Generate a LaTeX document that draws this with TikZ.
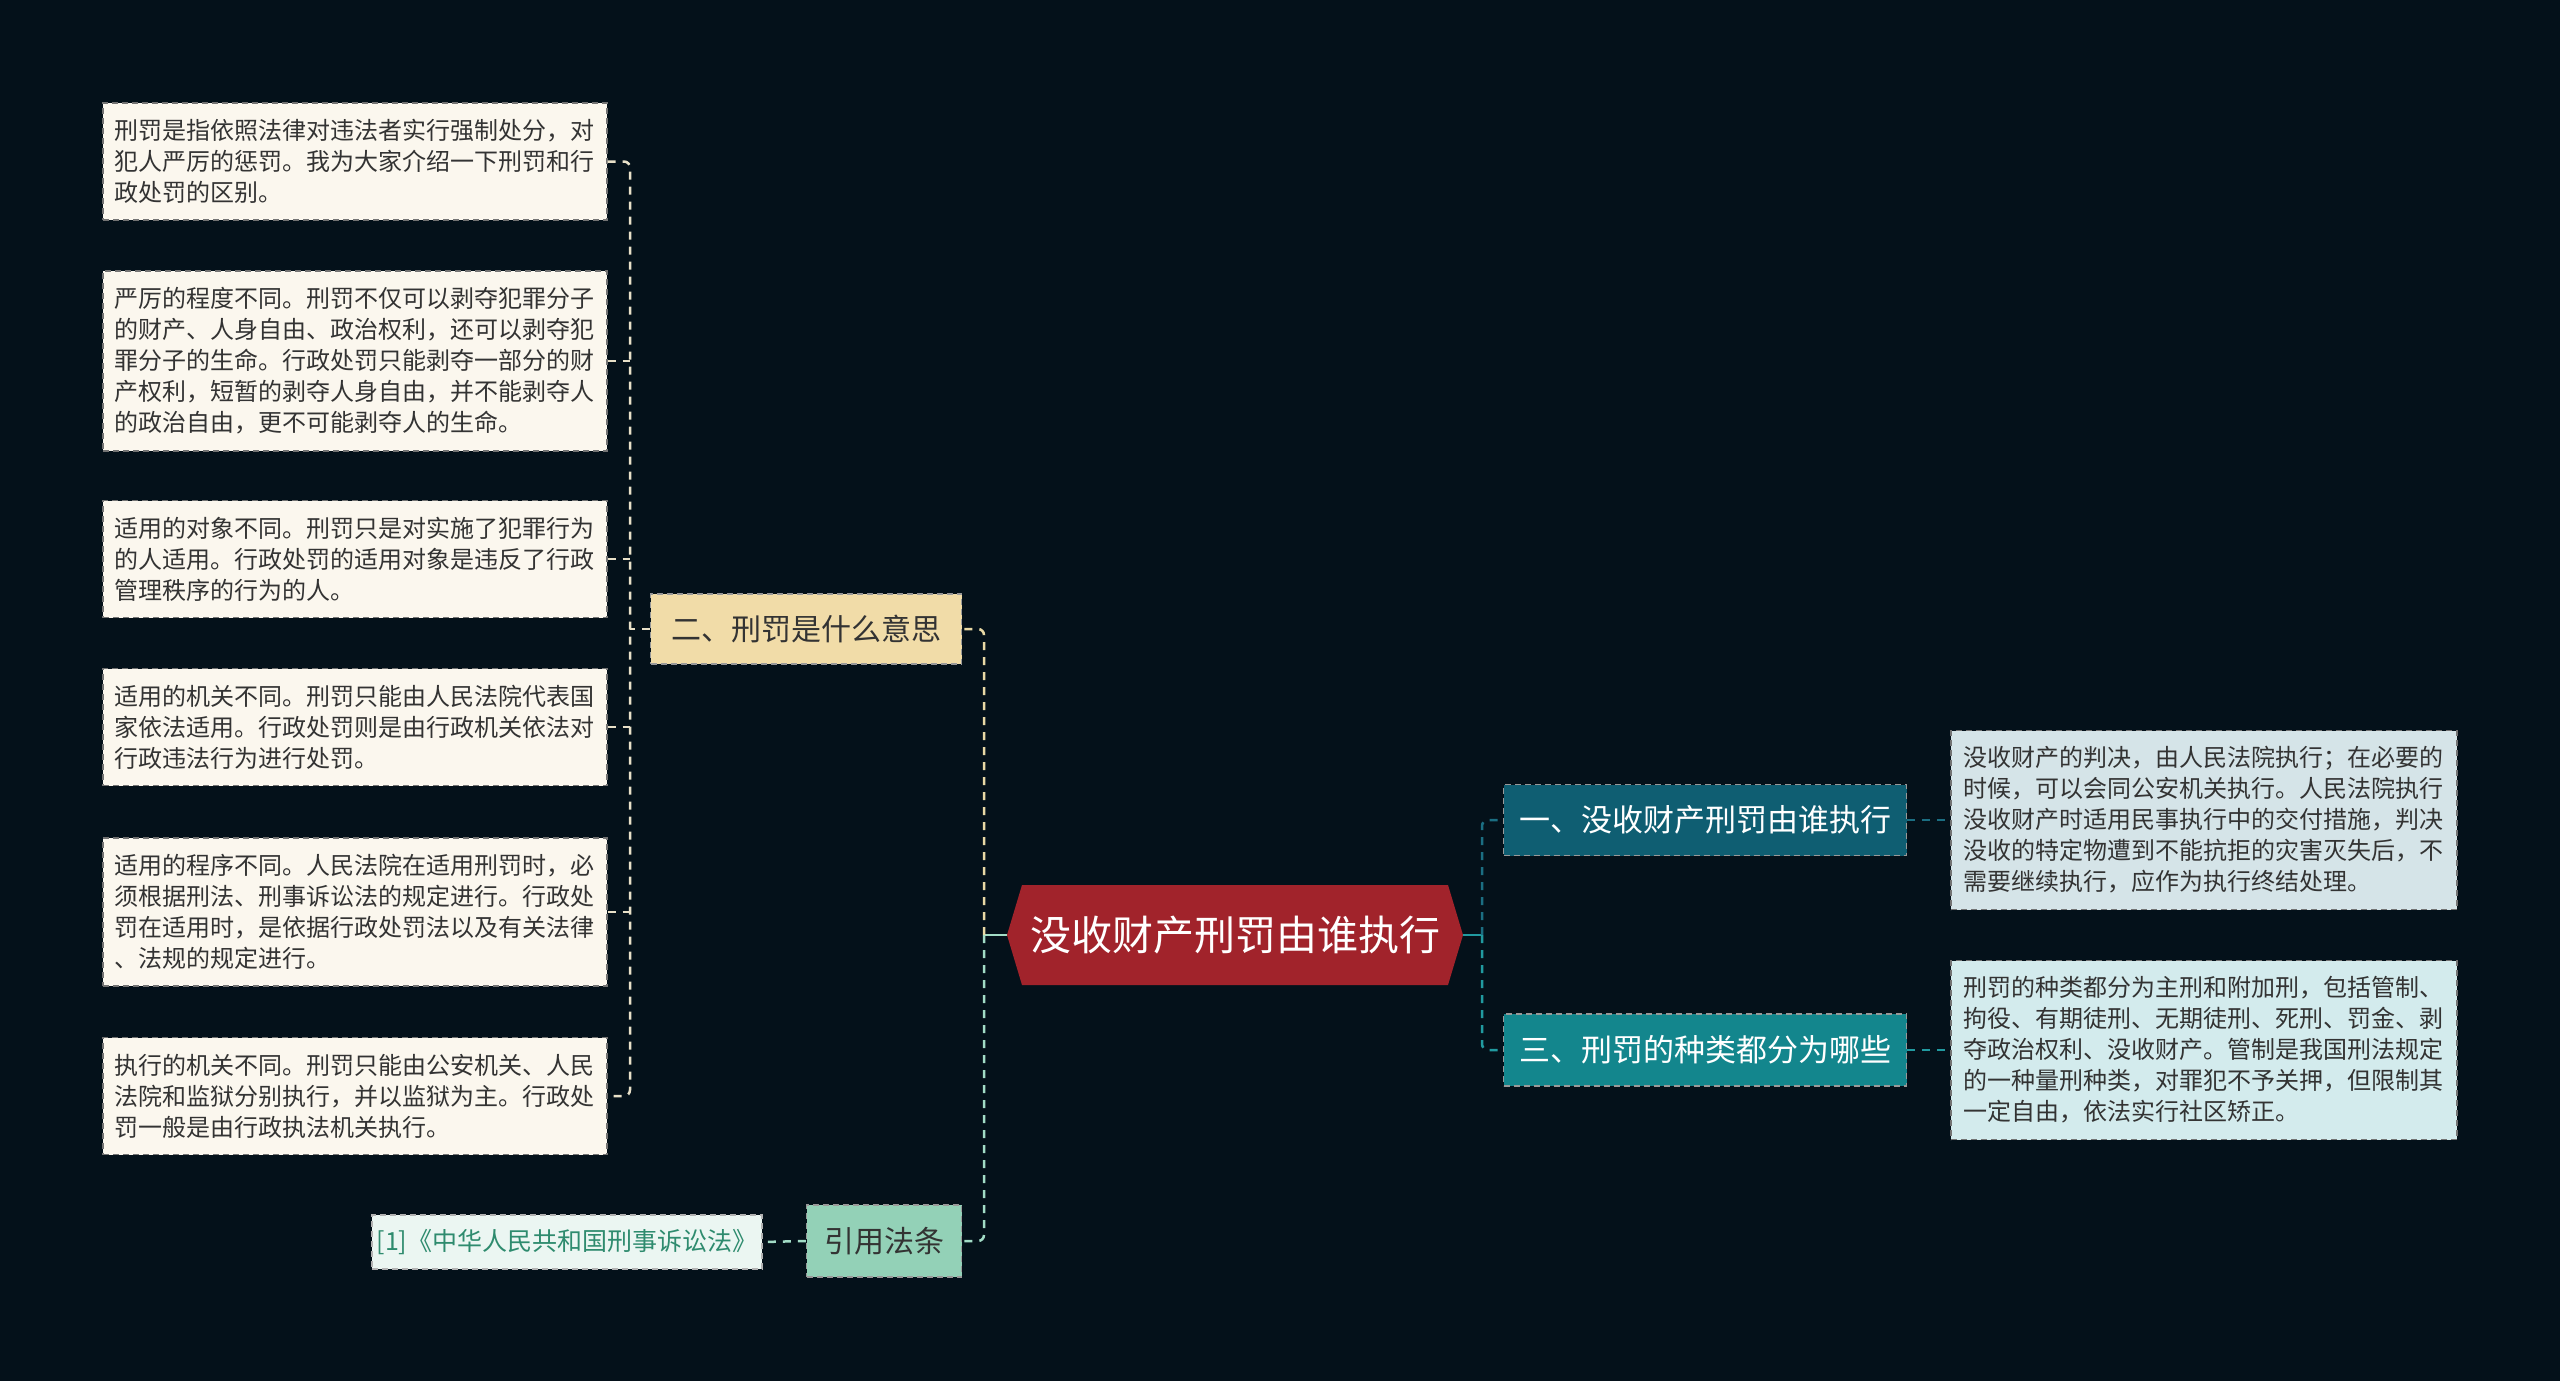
\documentclass[tikz,border=0pt]{standalone}
\usepackage{fontspec}
\newfontfamily\cjk{Noto Sans CJK SC}
\definecolor{bgc}{HTML}{04111A}
\definecolor{cream}{HTML}{FBF7EE}
\definecolor{beige}{HTML}{F1DCA8}
\definecolor{mint}{HTML}{93D1B7}
\definecolor{citef}{HTML}{EBF6F2}
\definecolor{citet}{HTML}{2E8B6E}
\definecolor{centr}{HTML}{A1232B}
\definecolor{tealA}{HTML}{0F5E72}
\definecolor{tealB}{HTML}{13868D}
\definecolor{rboxA}{HTML}{D5E4E8}
\definecolor{rboxB}{HTML}{D3EBED}
\definecolor{lconnc}{HTML}{E8E0C8}
\definecolor{beigeconn}{HTML}{E9D9A5}
\definecolor{mintconn}{HTML}{A2DCC6}
\definecolor{tconnA}{HTML}{1B6E82}
\definecolor{tconnB}{HTML}{219AA0}
\definecolor{txt}{HTML}{333333}
\begin{document}
\begin{tikzpicture}[x=1pt,y=-1pt,
  dsh/.style={line width=2.5pt, dash pattern=on 8pt off 7pt},
  edgebox/.style={draw=#1, line width=1.2pt, dash pattern=on 6pt off 4pt},
  lbox/.style={fill=cream, edgebox=black!55, text=txt, font=\cjk\fontsize{24}{31}\selectfont,
    text width=482pt, align=left, inner xsep=11pt, inner ysep=0pt, anchor=center},
  rbox/.style={edgebox=black!55, text=txt, font=\cjk\fontsize{24}{31}\selectfont,
    text width=482pt, align=left, inner xsep=12pt, inner ysep=0pt, anchor=center},
  topic/.style={font=\cjk\fontsize{30}{36}\selectfont, inner sep=0pt, edgebox=black!40, anchor=center},
  lconn/.style={dsh, draw=lconnc, rounded corners=6pt},
]
\fill[bgc] (0,0) rectangle (2560,1381);
\useasboundingbox (0,0) rectangle (2560,1381);

% central node
\node[minimum width=456pt, minimum height=100pt, inner sep=0pt, text=white,
  font=\cjk\fontsize{41}{48}\selectfont,
  path picture={\fill[centr] (path picture bounding box.west)
    -- ([xshift=15pt]path picture bounding box.north west)
    -- ([xshift=-15pt]path picture bounding box.north east)
    -- (path picture bounding box.east)
    -- ([xshift=-15pt]path picture bounding box.south east)
    -- ([xshift=15pt]path picture bounding box.south west) -- cycle;}]
  (c) at (1235,935) {没收财产刑罚由谁执行};

% left topic
\node[topic, fill=beige, text=txt, minimum width=311pt, minimum height=70pt] (t2) at (806,629) {二、刑罚是什么意思};
\node[topic, fill=mint, text=txt, minimum width=155pt, minimum height=72pt] (t4) at (884,1241) {引用法条};
\node[fill=citef, edgebox=black!30, text=citet, font=\cjk\fontsize{25}{30}\selectfont,
  minimum width=390pt, minimum height=54pt, inner sep=0pt] (cite) at (567,1242) {[1]《中华人民共和国刑事诉讼法》};

% right topics
\node[topic, fill=tealA, text=white, font=\cjk\fontsize{31}{36}\selectfont, minimum width=403pt, minimum height=71pt] (t1) at (1705,820) {一、没收财产刑罚由谁执行};
\node[topic, fill=tealB, text=white, font=\cjk\fontsize{31}{36}\selectfont, minimum width=403pt, minimum height=72pt] (t3) at (1705,1050) {三、刑罚的种类都分为哪些};

% left boxes
\node[lbox, minimum height=117pt] (l1) at (355,161.5) {刑罚是指依照法律对违法者实行强制处分，对\\犯人严厉的惩罚。我为大家介绍一下刑罚和行\\政处罚的区别。};
\node[lbox, minimum height=180pt] (l2) at (355,361) {严厉的程度不同。刑罚不仅可以剥夺犯罪分子\\的财产、人身自由、政治权利，还可以剥夺犯\\罪分子的生命。行政处罚只能剥夺一部分的财\\产权利，短暂的剥夺人身自由，并不能剥夺人\\的政治自由，更不可能剥夺人的生命。};
\node[lbox, minimum height=117pt] (l3) at (355,559) {适用的对象不同。刑罚只是对实施了犯罪行为\\的人适用。行政处罚的适用对象是违反了行政\\管理秩序的行为的人。};
\node[lbox, minimum height=117pt] (l4) at (355,727) {适用的机关不同。刑罚只能由人民法院代表国\\家依法适用。行政处罚则是由行政机关依法对\\行政违法行为进行处罚。};
\node[lbox, minimum height=148pt] (l5) at (355,912) {适用的程序不同。人民法院在适用刑罚时，必\\须根据刑法、刑事诉讼法的规定进行。行政处\\罚在适用时，是依据行政处罚法以及有关法律\\、法规的规定进行。};
\node[lbox, minimum height=117pt] (l6) at (355,1096) {执行的机关不同。刑罚只能由公安机关、人民\\法院和监狱分别执行，并以监狱为主。行政处\\罚一般是由行政执法机关执行。};

% right boxes
\node[rbox, fill=rboxA, minimum height=179pt] (r1) at (2204,820) {没收财产的判决，由人民法院执行；在必要的\\时候，可以会同公安机关执行。人民法院执行\\没收财产时适用民事执行中的交付措施，判决\\没收的特定物遭到不能抗拒的灾害灭失后，不\\需要继续执行，应作为执行终结处理。};
\node[rbox, fill=rboxB, minimum height=179pt] (r2) at (2204,1050) {刑罚的种类都分为主刑和附加刑，包括管制、\\拘役、有期徒刑、无期徒刑、死刑、罚金、剥\\夺政治权利、没收财产。管制是我国刑法规定\\的一种量刑种类，对罪犯不予关押，但限制其\\一定自由，依法实行社区矫正。};

% connectors: centre to left
\coordinate (cl) at (984,935);
\draw[line width=2.5pt, draw=mintconn] (c.west) -- (cl);
\draw[dsh, draw=beigeconn, rounded corners=6pt] (cl) |- (t2.east);
\draw[dsh, draw=mintconn, rounded corners=6pt] (cl) |- (t4.east);
\draw[dsh, draw=mintconn] (t4.west) -- (cite.east);

% left subtree
\coordinate (lt) at (630,629);
\draw[lconn] (t2.west) -- (lt);
\draw[lconn] (l1.east) -| (lt) |- (l6.east);
\draw[lconn] (l2.east) -- (l2.east -| lt);
\draw[lconn] (l3.east) -- (l3.east -| lt);
\draw[lconn] (l4.east) -- (l4.east -| lt);
\draw[lconn] (l5.east) -- (l5.east -| lt);

% connectors: centre to right
\coordinate (cr) at (1482,935);
\draw[line width=2.5pt, draw=tconnB] (c.east) -- (cr);
\draw[dsh, draw=tconnA, rounded corners=6pt] (cr) |- (t1.west);
\draw[dsh, draw=tconnB, rounded corners=6pt] (cr) |- (t3.west);
\draw[dsh, draw=tconnA] (t1.east) -- (r1.west);
\draw[dsh, draw=tconnB] (t3.east) -- (r2.west);
\end{tikzpicture}
\end{document}
